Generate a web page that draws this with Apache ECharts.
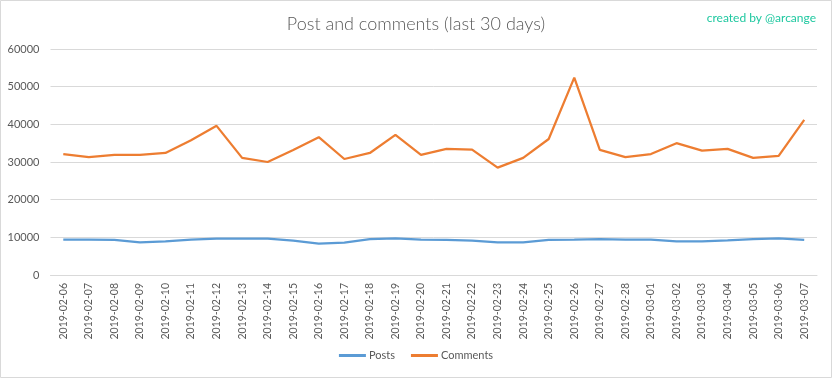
<!DOCTYPE html>
<html>
<head>
<meta charset="utf-8">
<script src="https://cdn.jsdelivr.net/npm/echarts@6/dist/echarts.min.js"></script>
<style>
html,body{margin:0;padding:0;background:#fff;}
#c{width:832px;height:378px;}
</style>
</head>
<body>
<div id="c"></div>
<script>
var categories = ["2019-02-06","2019-02-07","2019-02-08","2019-02-09","2019-02-10","2019-02-11","2019-02-12","2019-02-13","2019-02-14","2019-02-15","2019-02-16","2019-02-17","2019-02-18","2019-02-19","2019-02-20","2019-02-21","2019-02-22","2019-02-23","2019-02-24","2019-02-25","2019-02-26","2019-02-27","2019-02-28","2019-03-01","2019-03-02","2019-03-03","2019-03-04","2019-03-05","2019-03-06","2019-03-07"];
var posts = [9400,9400,9350,8650,8950,9400,9650,9650,9650,9100,8300,8600,9500,9750,9400,9300,9100,8650,8650,9300,9400,9550,9400,9400,8950,8950,9200,9550,9750,9300];
var comments = [32100,31300,31900,31900,32400,35800,39600,31100,30000,33200,36600,30800,32400,37200,31900,33500,33300,28500,31100,36100,52400,33200,31300,32100,35000,33000,33500,31100,31600,41200];
var yTicks = [0,10000,20000,30000,40000,50000,60000];

var font = "Lato";
var chart = echarts.init(document.getElementById('c'), null, {renderer:'canvas'});
chart.setOption({
  backgroundColor:'#fff',
  animation:false,
  textStyle:{fontFamily:font},
  graphic:[{type:'rect',shape:{x:0.5,y:0.5,width:831,height:377},style:{fill:'none',stroke:'#d9d9d9',lineWidth:1},silent:true}],
  title:[
    {text:'Post and comments (last 30 days)',left:'center',top:10,textStyle:{fontFamily:font,fontSize:18,fontWeight:300,color:'#595959'}},
    {text:'created by @arcange',right:11,top:7,textStyle:{fontFamily:font,fontSize:12,fontWeight:'normal',color:'#1fc8a0'}}
  ],
  legend:{bottom:12,left:'center',itemWidth:27,itemHeight:3,itemGap:16,icon:'rect',
    textStyle:{fontFamily:font,fontSize:11,color:'#595959',padding:[0,0,0,-2]},
    data:['Posts','Comments']},
  grid:{left:50.5,right:15,top:49,bottom:103,containLabel:false},
  xAxis:{type:'category',data:categories,boundaryGap:true,
    axisLine:{lineStyle:{color:'#d9d9d9',width:1}},axisTick:{show:false},
    axisLabel:{rotate:90,interval:0,fontFamily:font,fontSize:10.5,color:'#595959',margin:8}},
  yAxis:{type:'value',min:yTicks[0],max:yTicks[yTicks.length-1],interval:10000,
    axisLine:{show:false},axisTick:{show:false},
    splitLine:{lineStyle:{color:'#d9d9d9',width:1}},
    axisLabel:{fontFamily:font,fontSize:11,color:'#595959',margin:11,formatter:function(v){return String(v);}}},
  series:[
    {name:'Posts',type:'line',data:posts,symbol:'none',smooth:false,lineStyle:{color:'#5b9bd5',width:2.25},itemStyle:{color:'#5b9bd5'}},
    {name:'Comments',type:'line',data:comments,symbol:'none',smooth:false,lineStyle:{color:'#ed7d31',width:2.25},itemStyle:{color:'#ed7d31'}}
  ]
});
</script>
</body>
</html>
